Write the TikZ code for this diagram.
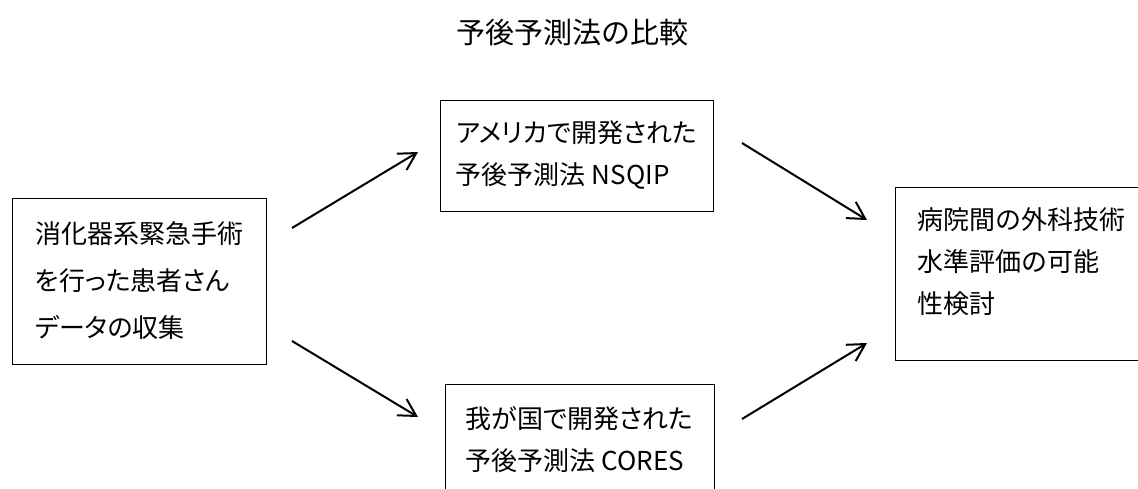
\documentclass[tikz,border=0pt]{standalone}
\usepackage{fontspec}
\setmainfont{Noto Sans CJK JP}[RawFeature=+palt]
\newfontfamily\titlefont{Noto Sans CJK JP}
\usetikzlibrary{arrows.meta}
\usetikzlibrary{positioning}

\tikzset{
    box/.style={draw, line width=1pt, align=left, inner sep=0pt,
        font=\fontsize{26}{42}\selectfont},
    flow/.style={line width=2pt, -{Straight Barb[length=17pt,width=19pt]}}
}

\begin{document}
\begin{tikzpicture}[x=1pt,y=-1pt]
    \useasboundingbox (0,0) rectangle (1138,488);
    \clip (0,0) rectangle (1138,488);
    \node[font=\titlefont\fontsize{29}{34}\selectfont] (title) at (572,33) {予後予測法の比較};
    \node[box, font=\fontsize{26}{47}\selectfont,
        minimum width=254pt, minimum height=166pt] (src) at (139,281)
        {消化器系緊急手術\\を行った患者さん\\データの収集};
    \node[box, minimum width=273pt, minimum height=111pt] (nsqip) at (576.5,155.5)
        {アメリカで開発された\\予後予測法 NSQIP};
    \node[box, minimum width=269pt, minimum height=111pt] (cores) at (579.5,439.5)
        {我が国で開発された\\予後予測法 CORES};
    % text sits a little above the middle here
    \node[box, minimum width=253pt, minimum height=173pt] (eval) at (1021.5,273.5)
        {病院間の外科技術\\水準評価の可能\\性検討\\[-17pt]\mbox{}};
    % arrow ends
    \coordinate (src-up) at (292,228);
    \coordinate (src-down) at (292,341);
    \coordinate (nsqip-in) at (418,152);
    \coordinate (cores-in) at (418,417);
    \coordinate (nsqip-out) at (742,143);
    \coordinate (cores-out) at (742,419);
    \coordinate (eval-up) at (867,220);
    \coordinate (eval-down) at (867,343);
    \draw[flow] (src-up) -- (nsqip-in);
    \draw[flow] (src-down) -- (cores-in);
    \draw[flow] (nsqip-out) -- (eval-up);
    \draw[flow] (cores-out) -- (eval-down);
\end{tikzpicture}
\end{document}
